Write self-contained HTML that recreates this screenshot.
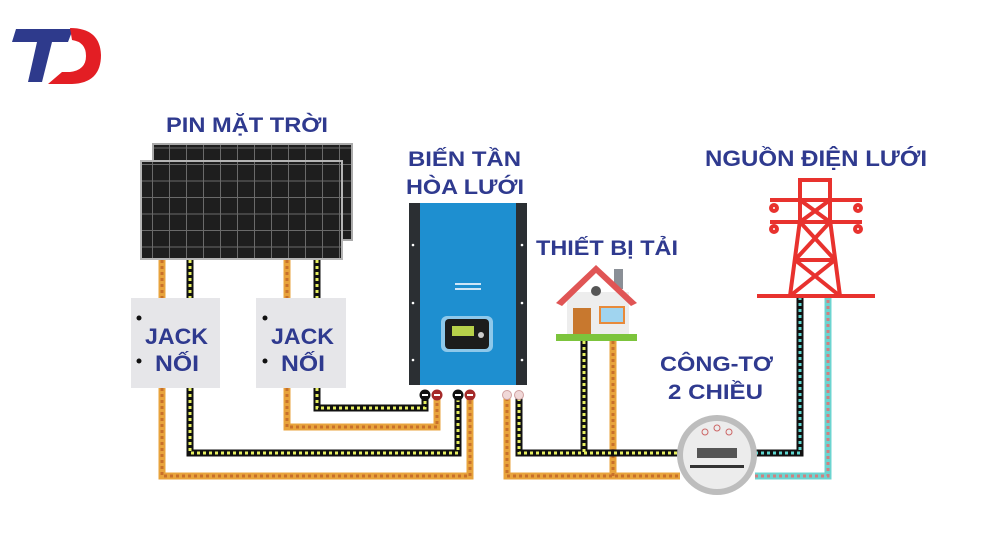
<!DOCTYPE html>
<html><head><meta charset="utf-8"><style>
html,body{margin:0;padding:0;background:#fff;}
svg{display:block}
text{font-family:"Liberation Sans","DejaVu Sans",sans-serif;font-weight:bold;fill:#2f3a8f;}
</style></head><body>
<svg width="1000" height="542" viewBox="0 0 1000 542" xmlns="http://www.w3.org/2000/svg">
<rect width="1000" height="542" fill="#fff"/>
<defs>
<pattern id="cells" width="17" height="16.5" patternUnits="userSpaceOnUse">
<rect width="17" height="16.5" fill="#6a6a6a"/>
<rect x="0" y="0" width="16" height="15.5" fill="#1e1e1e"/>
</pattern>
</defs>
<!-- logo -->
<polygon points="16,29 73,29 68,42 52,42 42,82 28,82 37,42 12,42" fill="#2e3a8c"/>
<path d="M70,28 Q100,28 101,55 Q101,83 72,84 L48,84 L62,72 L70,72 Q86,70 86,56 Q86,42 72,40 Z" fill="#e31e24"/>

<!-- labels -->
<text x="166" y="132" font-size="21" textLength="162" lengthAdjust="spacingAndGlyphs">PIN MẶT TRỜI</text>
<text x="408" y="166" font-size="21" textLength="113" lengthAdjust="spacingAndGlyphs">BIẾN TẦN</text>
<text x="406" y="194" font-size="21" textLength="118" lengthAdjust="spacingAndGlyphs">HÒA LƯỚI</text>
<text x="536" y="255" font-size="21" textLength="142" lengthAdjust="spacingAndGlyphs">THIẾT BỊ TẢI</text>
<text x="705" y="166" font-size="22" textLength="222" lengthAdjust="spacingAndGlyphs">NGUỒN ĐIỆN LƯỚI</text>
<text x="660" y="371" font-size="21" textLength="113" lengthAdjust="spacingAndGlyphs">CÔNG-TƠ</text>
<text x="668" y="399" font-size="21" textLength="95" lengthAdjust="spacingAndGlyphs">2 CHIỀU</text>

<!-- panels -->
<rect x="152" y="143" width="201" height="98" fill="#aaa"/>
<rect x="154" y="145" width="197" height="94" fill="url(#cells)"/>
<rect x="140" y="160" width="203" height="100" fill="#b5b5b5"/>
<rect x="142" y="162" width="199" height="96" fill="url(#cells)"/>

<!-- wires -->
<g fill="none" stroke-linejoin="miter">
<g stroke="#e8a33c" stroke-width="7">
<polyline points="162,260 162,298"/><polyline points="287,260 287,298"/>
<polyline points="162,388 162,476 470,476 470,398"/>
<polyline points="287,388 287,427 437,427 437,398"/>
<polyline points="507,398 507,476 680,476"/>
<polyline points="613,341 613,476"/>
</g>
<g stroke="#c8702a" stroke-width="3" stroke-dasharray="3 3">
<polyline points="162,260 162,298"/><polyline points="287,260 287,298"/>
<polyline points="162,388 162,476 470,476 470,398"/>
<polyline points="287,388 287,427 437,427 437,398"/>
<polyline points="507,398 507,476 680,476"/>
<polyline points="613,341 613,476"/>
</g>
<g stroke="#111" stroke-width="7">
<polyline points="190,260 190,298"/><polyline points="317,260 317,298"/>
<polyline points="190,388 190,453 458,453 458,398"/>
<polyline points="317,388 317,408 425,408 425,398"/>
<polyline points="519,398 519,453 680,453"/>
<polyline points="584,341 584,453"/>
<polyline points="755,453 800,453 800,296"/>
</g>
<g stroke="#e8f060" stroke-width="3" stroke-dasharray="3 3">
<polyline points="190,260 190,298"/><polyline points="317,260 317,298"/>
<polyline points="190,388 190,453 458,453 458,398"/>
<polyline points="317,388 317,408 425,408 425,398"/>
<polyline points="519,398 519,453 680,453"/>
<polyline points="584,341 584,453"/>
</g>
<polyline points="755,453 800,453 800,296" stroke="#5dd6d0" stroke-width="3" stroke-dasharray="3 3"/>
<polyline points="755,476 828,476 828,296" stroke="#6cd4d0" stroke-width="7"/>
<polyline points="755,476 828,476 828,296" stroke="#d08080" stroke-width="3" stroke-dasharray="3 3"/>
</g>

<!-- jack boxes -->
<rect x="131" y="298" width="89" height="90" fill="#e6e6e9"/>
<rect x="256" y="298" width="90" height="90" fill="#e6e6e9"/>
<circle cx="139" cy="318" r="2.5" fill="#111"/><circle cx="139" cy="361" r="2.5" fill="#111"/>
<circle cx="265" cy="318" r="2.5" fill="#111"/><circle cx="265" cy="361" r="2.5" fill="#111"/>
<text x="145" y="344" font-size="22" textLength="63" lengthAdjust="spacingAndGlyphs">JACK</text>
<text x="155" y="371" font-size="22" textLength="44" lengthAdjust="spacingAndGlyphs">NỐI</text>
<text x="271" y="344" font-size="22" textLength="63" lengthAdjust="spacingAndGlyphs">JACK</text>
<text x="281" y="371" font-size="22" textLength="44" lengthAdjust="spacingAndGlyphs">NỐI</text>

<!-- inverter -->
<rect x="409" y="203" width="118" height="182" fill="#2b2f33"/>
<rect x="420" y="203" width="96" height="182" fill="#1e8fd0"/>
<circle cx="413" cy="245" r="1.3" fill="#fff"/><circle cx="413" cy="303" r="1.3" fill="#fff"/><circle cx="413" cy="360" r="1.3" fill="#fff"/>
<circle cx="522" cy="245" r="1.3" fill="#fff"/><circle cx="522" cy="303" r="1.3" fill="#fff"/><circle cx="522" cy="360" r="1.3" fill="#fff"/>
<rect x="441" y="316" width="52" height="36" rx="6" fill="#8ec8ea"/>
<rect x="445" y="319" width="44" height="30" rx="4" fill="#1c1c1c"/>
<rect x="452" y="326" width="22" height="10" fill="#b7d04a"/>
<circle cx="481" cy="335" r="3" fill="#ccc"/>
<rect x="455" y="283" width="26" height="2" fill="#cfe6f7"/><rect x="455" y="288" width="26" height="2" fill="#cfe6f7"/>
<!-- terminals -->
<circle cx="425" cy="395" r="5.5" fill="#111"/><rect x="422" y="394" width="6" height="2" fill="#fff"/>
<circle cx="437" cy="395" r="5.5" fill="#a52a2a"/><rect x="434" y="394" width="6" height="2" fill="#fff"/>
<circle cx="458" cy="395" r="5.5" fill="#111"/><rect x="455" y="394" width="6" height="2" fill="#fff"/>
<circle cx="470" cy="395" r="5.5" fill="#a52a2a"/><rect x="467" y="394" width="6" height="2" fill="#fff"/>
<circle cx="507" cy="395" r="4.5" fill="#f0d8d8" stroke="#d0a0a0"/>
<circle cx="519" cy="395" r="4.5" fill="#f0d8d8" stroke="#d0a0a0"/>

<!-- house -->
<rect x="614" y="269" width="9" height="20" fill="#8a8f96"/>
<rect x="567" y="292" width="62" height="43" fill="#ededed"/>
<polygon points="556,303 596,265 637,303 631,306 596,273 562,306" fill="#e05555"/>
<circle cx="596" cy="291" r="5" fill="#555"/>
<rect x="573" y="308" width="18" height="30" fill="#c8782e"/>
<rect x="600" y="307" width="24" height="16" fill="#a0d4ef" stroke="#e88a3a" stroke-width="2"/>
<rect x="556" y="334" width="81" height="7" fill="#7cc43c"/>

<!-- tower -->
<g stroke="#e8322e" stroke-width="4" fill="none">
<line x1="757" y1="296" x2="875" y2="296"/>
<polyline points="790,296 800,220 800,180 830,180 830,220 840,296"/>
<line x1="770" y1="200" x2="862" y2="200"/>
<line x1="770" y1="222" x2="862" y2="222"/>
<line x1="800" y1="200" x2="830" y2="222"/><line x1="830" y1="200" x2="800" y2="222"/>
<line x1="800" y1="222" x2="835" y2="260"/><line x1="830" y1="222" x2="795" y2="260"/>
<line x1="795" y1="260" x2="840" y2="296"/><line x1="835" y1="260" x2="790" y2="296"/>
<line x1="795" y1="260" x2="835" y2="260"/>
<circle cx="774" cy="208" r="3"/><circle cx="858" cy="208" r="3"/>
<circle cx="774" cy="229" r="3"/><circle cx="858" cy="229" r="3"/>
</g>

<!-- meter -->
<circle cx="717" cy="455" r="40" fill="#bdbdbd"/>
<circle cx="717" cy="455" r="34" fill="#ececec"/>
<rect x="697" y="448" width="40" height="10" fill="#555"/>
<rect x="690" y="465" width="54" height="3" fill="#333"/>
<circle cx="705" cy="432" r="3" fill="none" stroke="#c66"/><circle cx="717" cy="428" r="3" fill="none" stroke="#c66"/><circle cx="729" cy="432" r="3" fill="none" stroke="#c66"/>
</svg>
</body></html>
